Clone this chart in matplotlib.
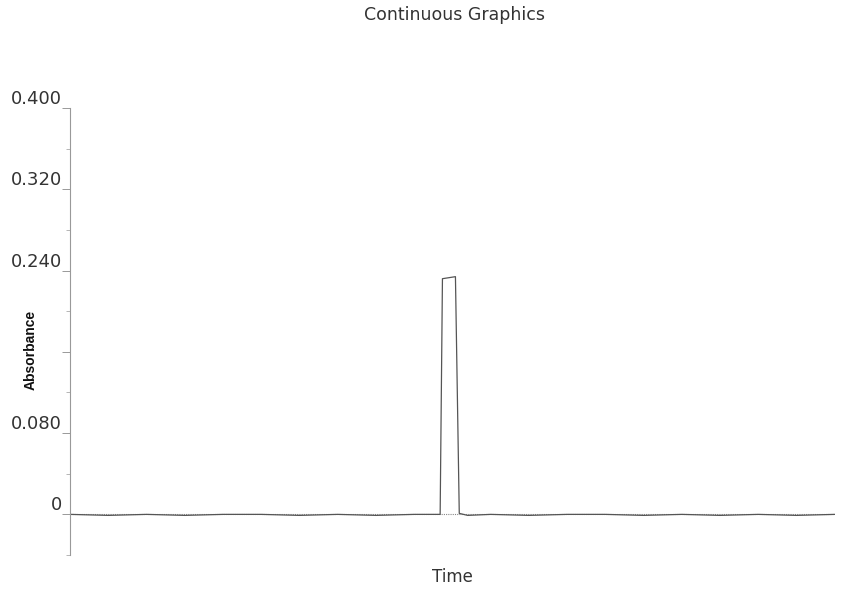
import matplotlib.pyplot as plt

# Trace (time in arbitrary units, 0..100)
time = [0, 5, 10, 15, 20, 25, 30, 35, 40, 45, 47.5, 48.4, 48.7, 50.4, 50.9,
        52, 55, 60, 65, 70, 75, 80, 85, 90, 95, 100]
absorbance = [0.0, -0.001, 0.0, -0.001, 0.0, 0.0, -0.001, 0.0, -0.001, 0.0,
              0.0, 0.0, 0.232, 0.234, 0.001, -0.001, 0.0, -0.001, 0.0, 0.0,
              -0.001, 0.0, -0.001, 0.0, -0.001, 0.0]

ytick_vals = [0, 0.08, 0.16, 0.24, 0.32, 0.40]
ytick_labels = ['0', '0.080', '', '0.240', '0.320', '0.400']
yminor_vals = [-0.04, 0.04, 0.12, 0.20, 0.28, 0.36]

plt.rcParams['font.family'] = ['DejaVu Sans']

fig = plt.figure(figsize=(8.44, 5.90), dpi=100)
ax = fig.add_axes([0.083, 0.0593, 0.906, 0.7576])

ax.axhline(0, color='#888888', lw=0.8, ls=(0, (1, 1)), zorder=1)
ax.plot(time, absorbance, color='#555555', lw=0.9, zorder=2)

ax.set_xlim(0, 100)
ax.set_ylim(-0.0372, 0.400)

for s in ['top', 'right', 'bottom']:
    ax.spines[s].set_visible(False)
ax.spines['left'].set_color('#999999')
ax.spines['left'].set_linewidth(0.8)

ax.set_xticks([])
ax.set_yticks(ytick_vals)
ax.set_yticklabels(ytick_labels, fontsize=13, color='#333333')
ax.set_yticks(yminor_vals, minor=True)
ax.tick_params(axis='y', which='major', length=6, width=0.7, color='#999999', pad=0)
ax.tick_params(axis='y', which='minor', length=3, width=0.6, color='#aaaaaa')
for lab in ax.get_yticklabels():
    lab.set_va('bottom')

ax.set_xlabel('Time', fontsize=12, color='#333333', labelpad=9)
ax.set_ylabel('Absorbance', fontsize=10, fontweight='bold', color='#111111',
              family=['Liberation Sans', 'DejaVu Sans'])
ax.yaxis.set_label_coords(-0.043, 0.458)

fig.text(0.539, 0.99, 'Continuous Graphics', ha='center', va='top',
         fontsize=12.5, color='#333333')

fig.savefig('out.png', dpi=100)
